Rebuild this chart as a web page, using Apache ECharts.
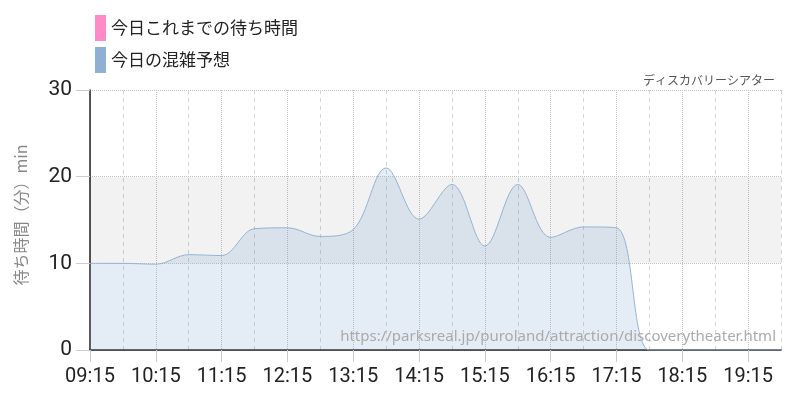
<!DOCTYPE html>
<html>
<head>
<meta charset="utf-8">
<script src="https://cdn.jsdelivr.net/npm/echarts@6/dist/echarts.min.js"></script>
<style>html,body{margin:0;padding:0;background:#fff}#c{width:800px;height:400px}</style>
</head>
<body>
<div id="c"></div>
<script>
var times = ['09:15','09:45','10:15','10:45','11:15','11:45','12:15','12:45','13:15','13:45','14:15','14:45','15:15','15:45','16:15','16:45','17:15','17:45','18:15','18:45','19:15','19:45'];
var actualWait = [];
var forecast = [10.0,10.0,9.9,11.0,10.9,14.0,14.1,13.1,13.9,21.0,15.1,19.1,12.0,19.1,13.0,14.2,14.1,0,0,0,0,0];
var yTicks = [0,10,20,30];
var seriesNames = ['今日これまでの待ち時間','今日の混雑予想'];
var attractionName = 'ディスカバリーシアター';
var sourceUrl = 'https://parksreal.jp/puroland/attraction/discoverytheater.html';

var numFont = "'Liberation Sans Narrow','Roboto',sans-serif";
var jpFont = "'Noto Sans CJK JP','Noto Sans',sans-serif";
var chart = echarts.init(document.getElementById('c'));
chart.setOption({
  animation:false,
  backgroundColor:'#fff',
  title:{text:attractionName,right:20,top:69,textStyle:{fontSize:12,color:'#555',fontWeight:'normal',fontFamily:jpFont}},
  legend:{data:seriesNames,orient:'vertical',left:90,top:10,icon:'rect',itemWidth:11,itemHeight:26,itemGap:6,
    textStyle:{fontSize:17,color:'#222',fontFamily:jpFont}},
  grid:{left:90,right:19,top:90,bottom:50},
  xAxis:[{
    type:'category',data:times,boundaryGap:false,
    axisLine:{lineStyle:{color:'#222',width:1.5}},
    axisTick:{show:true,interval:function(i){return i%2===0;},length:12,lineStyle:{color:'#ccc'}},
    axisLabel:{interval:function(i){return i%2===0;},fontSize:20,color:'#222',margin:17,fontFamily:numFont},
    splitLine:{show:true,interval:function(i){return i%2===0;},lineStyle:{type:'dotted',color:'#c4c4c4'}}
  },{
    type:'category',data:times,boundaryGap:false,position:'bottom',
    axisLine:{show:false},axisTick:{show:false},axisLabel:{show:false},
    splitLine:{show:true,interval:function(i){return i%2===1;},lineStyle:{type:[4,4],color:'#d4d4d4'}}
  }],
  yAxis:{
    type:'value',min:0,max:30,interval:10,
    name:'待ち時間（分）min',nameLocation:'middle',nameGap:61,nameRotate:90,
    nameTextStyle:{fontSize:16,color:'#888',fontFamily:jpFont,padding:[0,0,0,10]},
    axisLine:{show:true,lineStyle:{color:'#222',width:1.5}},
    axisTick:{show:true,length:14,lineStyle:{color:'#ccc'}},
    axisLabel:{fontSize:21,color:'#222',margin:18,fontFamily:numFont,
      formatter:function(v){return yTicks.indexOf(v)>=0?String(v):'';}},
    splitLine:{show:true,lineStyle:{type:'dotted',color:'#c4c4c4'}}
  },
  graphic:[{type:'text',right:24,top:329,z:100,style:{text:sourceUrl,fontSize:15,fill:'#aaa',fontFamily:"'Noto Sans',sans-serif"}}],
  series:[{
    name:seriesNames[0],type:'line',data:actualWait,z:1,
    itemStyle:{color:'#ff8ac8'},lineStyle:{color:'#ff8ac8'},
    markArea:{silent:true,itemStyle:{color:'rgba(0,0,0,0.05)'},data:[[{yAxis:10},{yAxis:20}]]}
  },{
    name:seriesNames[1],type:'line',data:forecast,smooth:0.35,showSymbol:false,z:2,
    itemStyle:{color:'#8fb0d0'},
    lineStyle:{color:'#94b4d4',width:1},
    areaStyle:{color:'rgba(110,155,200,0.27)'}
  }]
});
</script>
</body>
</html>
